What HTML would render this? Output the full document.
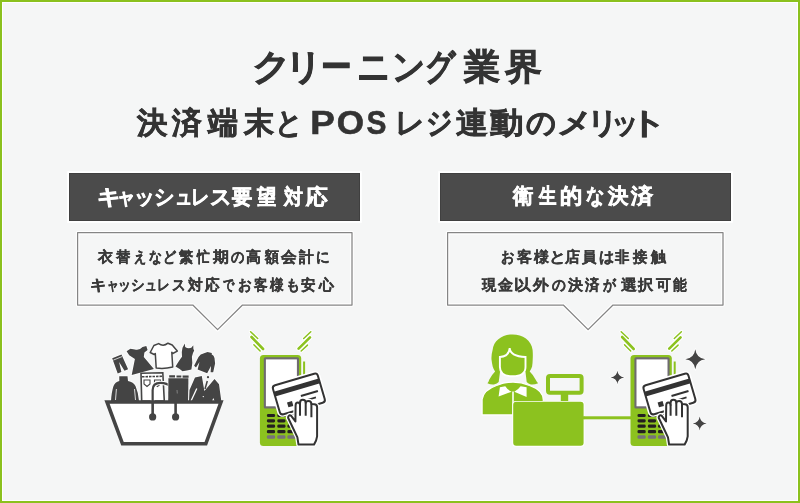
<!DOCTYPE html>
<html><head><meta charset="utf-8">
<style>
html,body{margin:0;padding:0;}
body{width:800px;height:503px;position:relative;overflow:hidden;background:#f5f6f6;font-family:"Liberation Sans",sans-serif;}
.frame{position:absolute;left:0;top:0;width:796px;height:499px;border:2px solid #8bc11e;}
.inner{position:absolute;left:2px;top:2px;width:796px;height:499px;border:1px solid #ffffff;box-sizing:border-box;}
.ln{position:absolute;left:0;width:800px;height:40px;will-change:transform;font-weight:bold;line-height:1;white-space:nowrap;}
.ln span{position:absolute;top:0;text-align:center;}
.bar{position:absolute;top:172.95px;height:47.95px;width:291.35px;background:#4b4b4b;box-shadow:inset 0 0 0 0.8px #3e3e3e,0 0 0 1.8px #fff;}
svg{position:absolute;left:0;top:0;}
</style></head><body>
<div class="frame"></div>
<div class="inner"></div>
<div class="bar" style="left:68.55px;"></div>
<div class="bar" style="left:439.5px;"></div>
<svg width="800" height="503" viewBox="0 0 800 503">
  <g fill="none" stroke-linejoin="round">
  <path d="M77.6 232.7 H352 V305 H242.5 L217.6 329.6 L192.8 305 H77.6 Z" stroke="#fff" stroke-width="3.6"/>
  <path d="M447.6 232.7 H723 V305 H613 L588.1 329.6 L563.3 305 H447.6 Z" stroke="#fff" stroke-width="3.6"/>
  <path d="M77.6 232.7 H352 V305 H242.5 L217.6 329.6 L192.8 305 H77.6 Z" stroke="#858585" stroke-width="1.25"/>
  <path d="M447.6 232.7 H723 V305 H613 L588.1 329.6 L563.3 305 H447.6 Z" stroke="#858585" stroke-width="1.25"/>
  </g>
</svg>
<div class="ln" style="top:49.60px;font-size:35.50px;color:#333;-webkit-text-stroke:0.8px #333;"><span style="left:252.98px;width:35.50px;transform:scaleX(1.067);transform-origin:16.25px 50%">ク</span><span style="left:284.77px;width:35.50px;transform:scaleX(1.026);transform-origin:17.25px 50%">リ</span><span style="left:318.05px;width:35.50px;transform:scaleX(0.850);transform-origin:17.75px 50%">ー</span><span style="left:354.65px;width:35.50px;transform:scaleX(0.910);transform-origin:17.25px 50%">ニ</span><span style="left:389.70px;width:35.50px;transform:scaleX(0.906);transform-origin:18.25px 50%">ン</span><span style="left:422.05px;width:35.50px;transform:scaleX(0.833);transform-origin:19.75px 50%">グ</span><span style="left:463.60px;width:35.50px">業</span><span style="left:504.95px;width:35.50px;transform:scaleX(1.022);transform-origin:17.75px 50%">界</span></div>
<div class="ln" style="top:108.00px;font-size:30.00px;color:#333;-webkit-text-stroke:0.6px #333;"><span style="left:136.90px;width:30.00px;transform:scaleX(1.013);transform-origin:15.00px 50%">決</span><span style="left:172.25px;width:30.00px;transform:scaleX(0.990);transform-origin:15.00px 50%">済</span><span style="left:208.30px;width:30.00px">端</span><span style="left:243.95px;width:30.00px">末</span><span style="left:273.65px;width:30.00px;transform:scaleX(0.910);transform-origin:14.50px 50%">と</span><span style="left:305.60px;width:33.00px;font-size:33.00px;top:-2.40px;transform:scaleX(1.116);transform-origin:17.00px 50%">P</span><span style="left:333.75px;width:33.00px;font-size:33.00px;top:-2.40px;transform:scaleX(1.062);transform-origin:16.50px 50%">O</span><span style="left:359.75px;width:33.00px;font-size:33.00px;top:-2.40px;transform:scaleX(0.905);transform-origin:16.50px 50%">S</span><span style="left:394.80px;width:30.00px;transform:scaleX(0.975);transform-origin:16.00px 50%">レ</span><span style="left:424.00px;width:30.00px;transform:scaleX(0.867);transform-origin:15.50px 50%">ジ</span><span style="left:456.75px;width:30.00px;transform:scaleX(1.057);transform-origin:15.00px 50%">連</span><span style="left:491.95px;width:30.00px;transform:scaleX(1.114);transform-origin:14.50px 50%">動</span><span style="left:526.40px;width:30.00px;transform:scaleX(0.987);transform-origin:15.00px 50%">の</span><span style="left:558.90px;width:30.00px;transform:scaleX(1.175);transform-origin:14.00px 50%">メ</span><span style="left:586.65px;width:30.00px;transform:scaleX(1.029);transform-origin:14.50px 50%">リ</span><span style="left:610.35px;width:30.00px;transform:scaleX(0.914);transform-origin:15.00px 50%">ッ</span><span style="left:633.20px;width:30.00px;transform:scaleX(1.250);transform-origin:17.00px 50%">ト</span></div>
<div class="ln" style="top:186.80px;font-size:20.50px;color:#fff;-webkit-text-stroke:0.6px #fff;"><span style="left:98.20px;width:20.50px;transform:scaleX(1.117);transform-origin:10.25px 50%">キ</span><span style="left:116.10px;width:20.50px;transform:scaleX(0.873);transform-origin:10.75px 50%">ャ</span><span style="left:133.57px;width:20.50px;transform:scaleX(0.990);transform-origin:10.75px 50%">ッ</span><span style="left:153.68px;width:20.50px;transform:scaleX(0.966);transform-origin:10.75px 50%">シ</span><span style="left:172.50px;width:20.50px;transform:scaleX(0.824);transform-origin:10.75px 50%">ュ</span><span style="left:189.50px;width:20.50px;transform:scaleX(0.872);transform-origin:11.25px 50%">レ</span><span style="left:210.18px;width:20.50px;transform:scaleX(1.019);transform-origin:10.25px 50%">ス</span><span style="left:231.85px;width:20.50px;transform:scaleX(0.962);transform-origin:10.75px 50%">要</span><span style="left:256.40px;width:20.50px;transform:scaleX(0.919);transform-origin:10.75px 50%">望</span><span style="left:282.70px;width:20.50px;transform:scaleX(0.905);transform-origin:10.25px 50%">対</span><span style="left:306.35px;width:20.50px;transform:scaleX(1.029);transform-origin:10.75px 50%">応</span></div>
<div class="ln" style="top:184.60px;font-size:21.00px;color:#fff;-webkit-text-stroke:0.6px #fff;"><span style="left:512.90px;width:21.00px;transform:scaleX(0.964);transform-origin:10.50px 50%">衛</span><span style="left:537.45px;width:21.00px;transform:scaleX(0.832);transform-origin:10.50px 50%">生</span><span style="left:561.00px;width:21.00px;transform:scaleX(1.063);transform-origin:11.00px 50%">的</span><span style="left:585.05px;width:21.00px;transform:scaleX(0.865);transform-origin:10.50px 50%">な</span><span style="left:608.15px;width:21.00px;transform:scaleX(0.967);transform-origin:11.00px 50%">決</span><span style="left:632.25px;width:21.00px;transform:scaleX(1.052);transform-origin:11.00px 50%">済</span></div>
<div class="ln" style="top:248.50px;font-size:15.00px;color:#3a3a3a;-webkit-text-stroke:0.3px #3a3a3a;"><span style="left:98.25px;width:15.00px">衣</span><span style="left:115.88px;width:15.00px;transform:scaleX(0.950);transform-origin:8.00px 50%">替</span><span style="left:132.00px;width:15.00px;transform:scaleX(0.808);transform-origin:8.00px 50%">え</span><span style="left:148.25px;width:15.00px;transform:scaleX(0.857);transform-origin:7.50px 50%">な</span><span style="left:162.12px;width:15.00px;transform:scaleX(0.865);transform-origin:9.00px 50%">ど</span><span style="left:178.88px;width:15.00px;transform:scaleX(0.950);transform-origin:8.00px 50%">繁</span><span style="left:196.25px;width:15.00px;transform:scaleX(0.844);transform-origin:7.50px 50%">忙</span><span style="left:213.05px;width:15.00px;transform:scaleX(1.064);transform-origin:7.50px 50%">期</span><span style="left:229.75px;width:15.00px;transform:scaleX(0.887);transform-origin:8.00px 50%">の</span><span style="left:246.15px;width:15.00px">高</span><span style="left:263.82px;width:15.00px;transform:scaleX(0.928);transform-origin:7.50px 50%">額</span><span style="left:280.90px;width:15.00px;transform:scaleX(1.040);transform-origin:8.00px 50%">会</span><span style="left:298.50px;width:15.00px;transform:scaleX(0.987);transform-origin:8.00px 50%">計</span><span style="left:314.88px;width:15.00px;transform:scaleX(0.904);transform-origin:8.00px 50%">に</span></div>
<div class="ln" style="top:276.50px;font-size:15.00px;color:#3a3a3a;-webkit-text-stroke:0.3px #3a3a3a;"><span style="left:90.95px;width:15.00px;transform:scaleX(1.085);transform-origin:8.00px 50%">キ</span><span style="left:104.60px;width:15.00px;transform:scaleX(0.782);transform-origin:8.00px 50%">ャ</span><span style="left:116.70px;width:15.00px;transform:scaleX(0.855);transform-origin:8.00px 50%">ッ</span><span style="left:130.38px;width:15.00px;transform:scaleX(0.904);transform-origin:8.00px 50%">シ</span><span style="left:142.80px;width:15.00px;transform:scaleX(0.783);transform-origin:8.50px 50%">ュ</span><span style="left:155.68px;width:15.00px;transform:scaleX(0.846);transform-origin:8.50px 50%">レ</span><span style="left:171.05px;width:15.00px;transform:scaleX(0.900);transform-origin:8.00px 50%">ス</span><span style="left:188.20px;width:15.00px;transform:scaleX(0.987);transform-origin:8.00px 50%">対</span><span style="left:204.95px;width:15.00px;transform:scaleX(0.967);transform-origin:8.00px 50%">応</span><span style="left:221.43px;width:15.00px;transform:scaleX(0.750);transform-origin:8.50px 50%">で</span><span style="left:236.72px;width:15.00px;transform:scaleX(0.911);transform-origin:8.50px 50%">お</span><span style="left:252.95px;width:15.00px;transform:scaleX(0.907);transform-origin:8.00px 50%">客</span><span style="left:269.10px;width:15.00px;transform:scaleX(0.907);transform-origin:8.00px 50%">様</span><span style="left:285.25px;width:15.00px;transform:scaleX(0.927);transform-origin:8.00px 50%">も</span><span style="left:300.98px;width:15.00px;transform:scaleX(0.963);transform-origin:8.00px 50%">安</span><span style="left:319.32px;width:15.00px">心</span></div>
<div class="ln" style="top:248.50px;font-size:15.00px;color:#3a3a3a;-webkit-text-stroke:0.3px #3a3a3a;"><span style="left:500.15px;width:15.00px;transform:scaleX(0.893);transform-origin:8.50px 50%">お</span><span style="left:516.90px;width:15.00px">客</span><span style="left:533.75px;width:15.00px">様</span><span style="left:549.88px;width:15.00px;transform:scaleX(1.125);transform-origin:7.50px 50%">と</span><span style="left:565.00px;width:15.00px">店</span><span style="left:582.30px;width:15.00px;transform:scaleX(0.960);transform-origin:8.00px 50%">員</span><span style="left:599.17px;width:15.00px;transform:scaleX(1.012);transform-origin:8.00px 50%">は</span><span style="left:615.42px;width:15.00px;transform:scaleX(0.957);transform-origin:8.00px 50%">非</span><span style="left:632.92px;width:15.00px;transform:scaleX(0.957);transform-origin:8.00px 50%">接</span><span style="left:650.75px;width:15.00px">触</span></div>
<div class="ln" style="top:276.50px;font-size:15.00px;color:#3a3a3a;-webkit-text-stroke:0.3px #3a3a3a;"><span style="left:481.50px;width:15.00px;transform:scaleX(0.950);transform-origin:7.50px 50%">現</span><span style="left:498.18px;width:15.00px">金</span><span style="left:515.20px;width:15.00px;transform:scaleX(1.129);transform-origin:8.50px 50%">以</span><span style="left:532.90px;width:15.00px;transform:scaleX(1.053);transform-origin:8.00px 50%">外</span><span style="left:551.12px;width:15.00px;transform:scaleX(0.917);transform-origin:8.00px 50%">の</span><span style="left:568.33px;width:15.00px">決</span><span style="left:584.70px;width:15.00px;transform:scaleX(0.960);transform-origin:8.00px 50%">済</span><span style="left:601.75px;width:15.00px;transform:scaleX(0.856);transform-origin:8.50px 50%">が</span><span style="left:620.50px;width:15.00px;transform:scaleX(1.053);transform-origin:8.00px 50%">選</span><span style="left:638.00px;width:15.00px;transform:scaleX(1.013);transform-origin:8.00px 50%">択</span><span style="left:655.85px;width:15.00px">可</span><span style="left:672.38px;width:15.00px;transform:scaleX(0.917);transform-origin:8.00px 50%">能</span></div>
<svg width="800" height="503" viewBox="0 0 800 503">
<defs>
  <g id="term">
    <!-- vibration lines -->
    <g stroke="#fff" stroke-linecap="round" fill="none">
      <path d="M250.6 331.7 L257.7 338.5 M253.9 344.8 L260.1 351 M310.8 331.7 L303.7 338.5 M307.5 345.1 L301.2 351" stroke-width="3.5"/>
      <path d="M251.5 337 L263.1 349 M310 337.3 L298.6 348.7" stroke-width="4.5"/>
    </g>
    <g stroke="#8cc21f" stroke-linecap="round" fill="none">
      <path d="M250.6 331.7 L257.7 338.5 M253.9 344.8 L260.1 351 M310.8 331.7 L303.7 338.5 M307.5 345.1 L301.2 351" stroke-width="1.5"/>
      <path d="M251.5 337 L263.1 349 M310 337.3 L298.6 348.7" stroke-width="2.6"/>
    </g>
    <!-- body -->
    <rect x="303.1" y="361.5" width="2" height="78" fill="#8cc21f"/>
    <rect x="259.9" y="354.9" width="41.3" height="91" rx="3.5" fill="#8cc21f"/>
    <rect x="263.8" y="357.3" width="35.2" height="51.1" rx="1.5" fill="#6f6b70"/>
    <rect x="265.9" y="359.4" width="31" height="46.9" fill="#ffffff"/>
    <g fill="#231f20">
      <rect x="266.9" y="413.9" width="8.2" height="3.1" rx="1.3"/>
      <rect x="277.3" y="413.9" width="8.2" height="3.1" rx="1.3"/>
      <rect x="287.4" y="413.9" width="8.2" height="3.1" rx="1.3"/>
      <rect x="266.9" y="419.2" width="8.2" height="3.2" rx="1.3"/>
      <rect x="277.3" y="419.2" width="8.2" height="3.2" rx="1.3"/>
      <rect x="287.4" y="419.2" width="8.2" height="3.2" rx="1.3"/>
      <rect x="266.9" y="424.4" width="8.2" height="3.3" rx="1.3"/>
      <rect x="277.3" y="424.4" width="8.2" height="3.3" rx="1.3"/>
      <rect x="287.4" y="424.4" width="8.2" height="3.3" rx="1.3"/>
      <rect x="266.9" y="429.9" width="8.2" height="3.4" rx="1.3"/>
      <rect x="277.3" y="429.9" width="8.2" height="3.4" rx="1.3"/>
      <rect x="287.4" y="429.9" width="8.2" height="3.4" rx="1.3"/>
    </g>
    <g fill="#77737a">
      <rect x="266.9" y="435.3" width="8.2" height="3.4" rx="1.3"/>
      <rect x="277.3" y="435.3" width="8.2" height="3.4" rx="1.3"/>
      <rect x="287.4" y="435.3" width="8.2" height="3.4" rx="1.3"/>
    </g>
    <!-- card -->
    <g transform="translate(270.9 385.4) rotate(-16.4)">
      <rect x="0" y="0" width="48.8" height="32.2" rx="4" fill="#fff" stroke="#fff" stroke-width="3"/>
      <rect x="1" y="1" width="46.8" height="30.2" rx="3" fill="#fff" stroke="#333" stroke-width="2"/>
      <rect x="1" y="6.9" width="46.8" height="5" fill="#333"/>
      <rect x="25.8" y="17.6" width="17.7" height="2" fill="#333"/>
      <rect x="28" y="23.4" width="11.8" height="1.7" fill="#333"/>
      <rect x="10.6" y="21" width="5.2" height="5" fill="#333"/>
    </g>
    <!-- hand -->
    <path d="M288.4 416.3 Q289.6 414.6 291.2 415.9 L295.4 421.4 L295.6 405.5 Q295.6 402.5 297.8 402.5 Q300 402.5 300 405 L300 403 Q300 399.8 302.8 399.8 Q305.7 399.8 305.7 402.8 Q305.9 401 308.5 401 Q311.3 401 311.4 404 Q311.7 404.2 314.2 404.2 Q317.1 404.3 317.1 407.2 L317.1 436.3 Q316.6 440.5 314 444.6 L298.5 444.6 L297.4 437.4 L288.1 417.7 Z" fill="#fff" stroke="#fff" stroke-width="4.5" stroke-linejoin="round"/>
    <path d="M288.4 416.3 Q289.6 414.6 291.2 415.9 L295.4 421.4 L295.6 405.5 Q295.6 402.5 297.8 402.5 Q300 402.5 300 405 L300 403 Q300 399.8 302.8 399.8 Q305.7 399.8 305.7 402.8 Q305.9 401 308.5 401 Q311.3 401 311.4 404 Q311.7 404.2 314.2 404.2 Q317.1 404.3 317.1 407.2 L317.1 436.3 Q316.6 440.5 314 444.6 L298.5 444.6 L297.4 437.4 L288.1 417.7 Z" fill="#fff" stroke="#333" stroke-width="2" stroke-linejoin="round"/>
    <path d="M300 404.6 V415.7 M305.7 402.4 V415.7 M311.4 403.4 V417.2" stroke="#333" stroke-width="2" fill="none"/>
  </g>
  <path id="star" d="M0 -1 Q0.11 -0.11 1 0 Q0.11 0.11 0 1 Q-0.11 0.11 -1 0 Q-0.11 -0.11 0 -1 Z"/>
</defs>

<!-- ===== basket ===== -->
<g id="basket">
  <!-- top row clothes -->
  <!-- pants -->
  <g transform="translate(112.2 358.2) rotate(-22)">
    <path d="M0 0 L10 0 L10.6 16.2 L6.7 16.2 L5 6 L3.4 16.2 L-0.6 16.2 Z" fill="#444" stroke="#fff" stroke-width="1.5" stroke-linejoin="round" paint-order="stroke"/>
    <path d="M0.3 2.2 H9.7" stroke="#f5f6f6" stroke-width="0.7"/>
  </g>
  <!-- dress 1 -->
  <path d="M126.6 351.3 L130.4 348.8 L134.9 349.4 Q138.7 351 142.5 346.9 L146.3 345.9 L147.6 350.1 L144.4 352.6 L143.8 357.1 L153.9 369.1 L131.7 374.9 L134.9 359 L129.2 355.2 Z" fill="#444" stroke="#fff" stroke-width="1.5" stroke-linejoin="round" paint-order="stroke"/>
  <!-- t-shirt -->
  <path d="M158.6 343.6 Q163.3 347 168 343.2 L172.2 345 L177.3 351.1 L172.7 353.5 L171.8 352.3 L172.7 367.1 Q163.8 369.2 156.2 368 L155.3 353.5 L154.2 354.5 L150.2 352.5 L153.9 345.5 Z" fill="#fff" stroke="#444" stroke-width="1.5" stroke-linejoin="round"/>
  <!-- dress 2 -->
  <path d="M184.8 343.4 L185.2 347 Q188 349 191.3 347.8 L193.3 345.3 L193.4 349 L194.2 350.6 Q192.5 353.5 191.9 356.75 Q193 363 191.4 369.4 Q187 370.5 182.5 371.3 Q179.5 368.5 175.5 366.4 Q179.5 360 182 356.75 Q181.3 352 182.5 347.8 Z" fill="#444" stroke="#fff" stroke-width="1.5" stroke-linejoin="round" paint-order="stroke"/>
  <!-- jacket tilted -->
  <path d="M207.5 352 L211.9 353 L211.6 354.2 Q214 355.5 214.5 358 L215.1 363.4 L213.2 372.3 L210.6 372.3 L211 366 L207.2 373.3 L197.6 369.5 L199.5 362 L196 367.6 L194.1 365.7 L198.5 357 Q200.5 354 203.4 353.6 Z" fill="#444" stroke="#fff" stroke-width="1.5" stroke-linejoin="round" paint-order="stroke"/>
  <!-- second row -->
  <!-- sweater -->
  <path d="M119.25 376.25 L127.5 376.25 L128 381 Q133.5 382 135.5 386 Q138.5 393 139 401 L111 401 Q111.5 392 113.5 386 Q115 382 119.3 381 Z" fill="#444" stroke="#fff" stroke-width="1.5" stroke-linejoin="round" paint-order="stroke"/>
  <path d="M116.4 389 L115.5 400 M134.5 389 L135.5 400" stroke="#fff" stroke-width="0.8"/>
  <!-- white jeans -->
  <path d="M141 373.3 L162.8 372.8 L164.3 401 L141.7 401 Z" fill="#fff" stroke="#444" stroke-width="1.6"/>
  <path d="M142 376.8 L163 376.3" stroke="#444" stroke-width="1.6" stroke-dasharray="2.5 1"/>
  <path d="M144 380 H150 V384 L147 386.5 L144 384 Z M154.5 380 H160.5 V384 L157.5 386.5 L154.5 384 Z" fill="none" stroke="#444" stroke-width="1.1"/>
  <!-- handle loop (behind dark jeans) -->
  <path d="M152.65 402 V390 Q152.65 382.9 160.5 382.9 Q167 382.9 171 387 L175 393" fill="none" stroke="#fff" stroke-width="4.2"/>
  <path d="M152.65 402 V390 Q152.65 382.9 160.5 382.9 Q167 382.9 171 387 L175 393" fill="none" stroke="#444" stroke-width="2.2"/>
  <!-- dark jeans -->
  <path d="M168.4 378.3 L188.4 378.3 L188.2 401 L168.2 401 Z" fill="#444" stroke="#fff" stroke-width="1.2" paint-order="stroke"/>
  <path d="M169.2 376.3 H175 M176.5 376.5 H181.3 M182.6 376.7 H188.6" stroke="#444" stroke-width="2.2"/>
  <path d="M177 390 L177.3 393.5" stroke="#888" stroke-width="0.9"/>
  <!-- suit -->
  <path d="M189 401 L189.5 390 L195 377.5 L201.8 376 L204.4 391 L214.5 379 L219 384.3 L221.3 401 Z" fill="#444" stroke="#fff" stroke-width="1.4" stroke-linejoin="round" paint-order="stroke"/>
  <path d="M196.8 388.5 L191 401" stroke="#fff" stroke-width="1.3"/>
  <path d="M207.3 381 L205 389" stroke="#444" stroke-width="1.5"/>
  <circle cx="208" cy="377.2" r="1.1" fill="#444"/>
  <circle cx="203.3" cy="396.6" r="0.7" fill="#fff"/>
  <path d="M212 401 L213.3 398 L214.6 401 Z" fill="#fff"/>
  <!-- basket body -->
  <path d="M107 402 L221 402 L205.8 443.8 L122.5 443.8 Z" fill="#fff" stroke="#444" stroke-width="3.6" stroke-linejoin="miter"/>
  <path d="M152.65 403 V417 M175.6 403 V417" stroke="#444" stroke-width="2.6"/>
  <circle cx="152.65" cy="416.9" r="3.6" fill="#444"/>
  <circle cx="175.6" cy="416.9" r="3.6" fill="#444"/>
</g>

<!-- left terminal -->
<use href="#term"/>

<!-- ===== woman + register ===== -->
<g id="cashier" fill="#8cc21f">
  <rect x="580" y="416.3" width="52" height="3" fill="#8cc21f"/>
  <!-- hair -->
  <path d="M512.6 334.4 C522.5 334.4 531.5 340 532.6 349.9 Q533 355 532.7 359.4 Q532.6 363.5 532.1 366.6 Q531.2 369.5 529.7 371.4 Q533.5 375 535.7 379.7 Q536.8 381.8 538.1 383.3 Q534.5 384.8 530.9 384.5 Q528.2 383.8 526.7 382.1 L525.5 372 L500 372 L498.7 382.1 Q497.2 383.8 493.9 384.5 Q490.5 384.8 487.4 383.3 Q488.7 381.8 489.2 379.7 Q491.5 375 495.1 371.4 Q493.5 369.5 492.7 366.6 Q492 363.5 491.5 359.4 Q491.2 355 492.6 349.9 C493.7 340 502.7 334.4 512.6 334.4 Z"/>
  <!-- face -->
  <path d="M509.7 348.1 Q510.3 356.3 525.5 357 L525.5 367 Q525.5 376.3 512.6 376.3 Q499.9 376.3 499.9 367 L499.9 357 Q509 356.5 509.7 348.1 Z" fill="#8cc21f" stroke="#fff" stroke-width="1.9"/>
  <!-- body -->
  <path d="M482.1 414.9 L482.1 399.5 Q483.5 390 496.5 385.5 Q504.5 382.1 513 382.1 Q521.5 382.1 529.5 385.5 Q543.3 390.5 543.3 400 L543.3 414.9 Z" fill="#8cc21f" stroke="#fff" stroke-width="1.2"/>
  <path d="M499.9 387.3 L505.3 386.2 Q507.5 389.8 511.7 391.7 L498.6 396.5 Z M526.6 387.3 L520.6 386.2 Q518 389.8 514.3 391.7 L526.6 397 Z" fill="#fff"/>
  <path d="M513 391.5 V415" stroke="#fff" stroke-width="1.6"/>
  <!-- register display -->
  <rect x="548" y="376" width="33.6" height="16.65" rx="2" fill="none" stroke="#8cc21f" stroke-width="4"/>
  <rect x="560.8" y="394" width="7.4" height="8.5" fill="#8cc21f"/>
  <!-- register body -->
  <rect x="512.3" y="400.9" width="72.2" height="45.8" rx="3.5" fill="#fff"/>
  <rect x="513.2" y="401.8" width="70.4" height="44" rx="3" fill="#8cc21f"/>
  <rect x="583" y="416.3" width="2" height="3" fill="#8cc21f"/>
</g>

<!-- right terminal -->
<use href="#term" transform="translate(370.6 0)"/>

<!-- stars -->
<g fill="#fff">
  <use href="#star" transform="translate(695.3 359.3) scale(12)"/>
  <use href="#star" transform="translate(617.4 377.5) scale(8.5)"/>
  <use href="#star" transform="translate(699.7 423.5) scale(8.5)"/>
</g>
<g fill="#444">
  <use href="#star" transform="translate(695.3 359.3) scale(10)"/>
  <use href="#star" transform="translate(617.4 377.5) scale(6.8)"/>
  <use href="#star" transform="translate(699.7 423.5) scale(7)"/>
</g>
</svg>

</body></html>
